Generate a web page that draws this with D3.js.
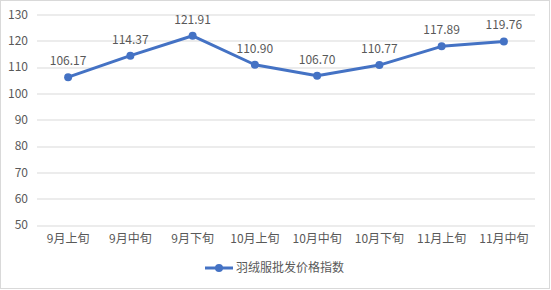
<!DOCTYPE html>
<html>
<head>
<meta charset="utf-8">
<script src="https://cdn.jsdelivr.net/npm/d3@7"></script>
<style>
  body { margin: 0; background: #fff; }
  svg text { font-family: "Noto Sans CJK SC", "Noto Sans", sans-serif; fill: #595959; }
</style>
</head>
<body>
<div id="chart"></div>
<script>
const categories = ["9月上旬", "9月中旬", "9月下旬", "10月上旬", "10月中旬", "10月下旬", "11月上旬", "11月中旬"];
const values = [106.17, 114.37, 121.91, 110.90, 106.70, 110.77, 117.89, 119.76];
const yTicks = [50, 60, 70, 80, 90, 100, 110, 120, 130];
const seriesName = "羽绒服批发价格指数";

const W = 551, H = 290;
const margin = { top: 14.5, right: 16, bottom: 65, left: 37 };
const width = W - margin.left - margin.right,
      height = H - margin.top - margin.bottom;
const blue = "#4472C4";

const root = d3.select("#chart").append("svg")
    .attr("width", W)
    .attr("height", H);

root.append("rect")
    .attr("x", 0.5).attr("y", 0.5)
    .attr("width", W - 2).attr("height", H - 2)
    .attr("fill", "#fff")
    .attr("stroke", "#d9d9d9");

const svg = root.append("g")
    .attr("transform", `translate(${margin.left},${margin.top})`);

const x = d3.scaleBand()
    .domain(categories)
    .range([0, width]);

const y = d3.scaleLinear()
    .domain([50, 130])
    .range([height, 0]);

// gridlines
svg.append("g")
    .selectAll("line")
    .data(yTicks)
    .enter().append("line")
    .attr("x1", 0).attr("x2", width)
    .attr("y1", d => Math.round(y(d)) + 0.5)
    .attr("y2", d => Math.round(y(d)) + 0.5)
    .attr("stroke", "#d9d9d9");

// y axis labels
const yAxis = svg.append("g")
    .call(d3.axisLeft(y).tickValues(yTicks).tickSize(0).tickPadding(9));
yAxis.select(".domain").remove();
yAxis.selectAll("text").style("font-size", "12px").attr("fill", "#595959");

// x axis labels
const xAxis = svg.append("g")
    .attr("transform", `translate(0,${height})`)
    .call(d3.axisBottom(x).tickSize(0).tickPadding(9));
xAxis.select(".domain").remove();
xAxis.selectAll("text").style("font-size", "12px").attr("fill", "#595959");

const line = d3.line()
    .x((d, i) => x(categories[i]) + x.bandwidth() / 2)
    .y(d => y(d));

svg.append("path")
    .datum(values)
    .attr("fill", "none")
    .attr("stroke", blue)
    .attr("stroke-width", 3)
    .attr("stroke-linejoin", "round")
    .attr("d", line);

svg.append("g")
    .selectAll("circle")
    .data(values)
    .enter().append("circle")
    .attr("cx", (d, i) => x(categories[i]) + x.bandwidth() / 2)
    .attr("cy", d => y(d))
    .attr("r", 4)
    .attr("fill", blue);

svg.append("g")
    .selectAll("text")
    .data(values)
    .enter().append("text")
    .attr("x", (d, i) => x(categories[i]) + x.bandwidth() / 2)
    .attr("y", d => y(d) - 12)
    .attr("text-anchor", "middle")
    .style("font-size", "12px")
    .attr("fill", "#404040")
    .text(d => d.toFixed(2));

// legend
const legend = root.append("g")
    .attr("transform", "translate(205,268)");
legend.append("line")
    .attr("x1", 0).attr("x2", 28)
    .attr("y1", 0).attr("y2", 0)
    .attr("stroke", blue)
    .attr("stroke-width", 3);
legend.append("circle")
    .attr("cx", 14).attr("cy", 0).attr("r", 4)
    .attr("fill", blue);
legend.append("text")
    .attr("x", 31).attr("y", 0)
    .attr("dy", "0.35em")
    .style("font-size", "12px")
    .attr("fill", "#595959")
    .text(seriesName);
</script>
</body>
</html>
